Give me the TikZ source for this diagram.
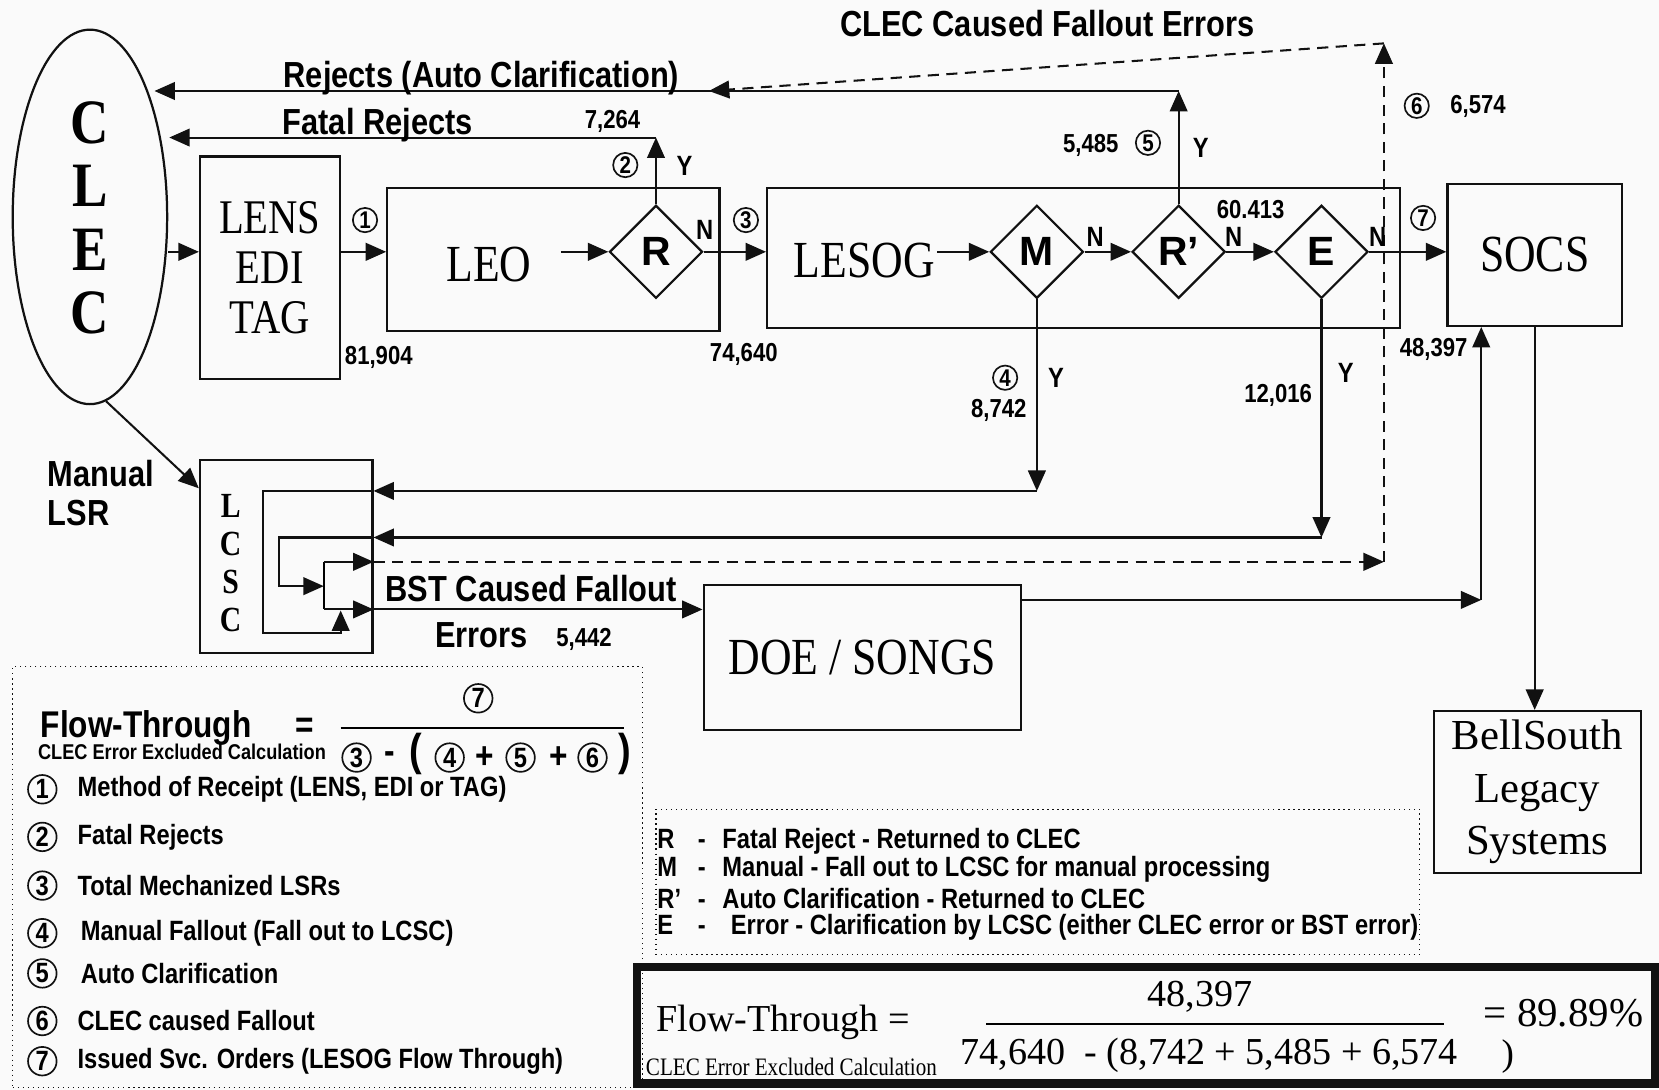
\documentclass[tikz,border=0pt]{standalone}
\usepackage{fontspec}
\setmainfont{Liberation Serif}
\setsansfont{Liberation Sans}
\newfontfamily\nsans[FakeStretch=0.85]{Liberation Sans}
\newfontfamily\nserif[FakeStretch=0.84]{Liberation Serif}
\usetikzlibrary{arrows.meta, shapes.geometric}
\definecolor{cbk}{HTML}{111111}
\definecolor{cpaper}{HTML}{FAFAFA}

\begin{document}
\begin{tikzpicture}[x=0.02cm, y=-0.02cm]
    \fill[cpaper] (0,0) rectangle (1568,1030);
    \useasboundingbox (0,0) rectangle (1568,1030);
    \begin{scope}[
        procbox/.style={rectangle, draw=cbk, line width=1.2pt, inner sep=0pt},
        decbox/.style={diamond, draw=cbk, line width=1.2pt, minimum size=1.76cm, inner sep=0pt, font=\sffamily\bfseries\fontsize{22}{26}\selectfont},
        boxtext/.style={font=\nserif\fontsize{28}{32}\selectfont, inner sep=1pt},
        flowlabel/.style={font=\nsans\bfseries\fontsize{19.5}{20.5}\selectfont, inner sep=1pt},
        countlabel/.style={font=\nsans\bfseries\fontsize{14}{16}\selectfont, inner sep=1pt},
        branchlabel/.style={font=\nsans\bfseries\fontsize{15}{17}\selectfont, inner sep=1pt},
        stepnum/.style={circle, draw=cbk, line width=0.9pt, inner sep=0pt, minimum size=0.46cm, font=\nsans\bfseries\fontsize{13}{15}\selectfont},
        bignum/.style={stepnum, minimum size=0.54cm, font=\nsans\bfseries\fontsize{15}{17}\selectfont},
        legendtext/.style={font=\nsans\bfseries\fontsize{15}{17}\selectfont, anchor=west, inner sep=0pt},
        fboxtext/.style={font=\fontsize{20.5}{24}\selectfont, inner sep=0pt},
        arrow/.style={-{Triangle[length=11pt, width=9.5pt]}, line width=1.1pt, draw=cbk},
        dasharrow/.style={arrow, dash pattern=on 6pt off 4pt},
        dotbox/.style={rectangle, draw=cbk, line width=0.7pt, dotted, inner sep=0pt}
    ]
        % ================= CLEC =================
        \node[ellipse, draw=cbk, line width=1.2pt, minimum width=2.92cm, minimum height=7.08cm, inner sep=0pt] (clec) at (85,205) {};
        \node[font=\nserif\bfseries\fontsize{34}{34}\selectfont, align=center, inner sep=0pt] (clectext) at (85,206) {C\\L\\E\\C};

        % ================= LEO row =================
        \node[procbox, minimum width=2.64cm, minimum height=4.2cm, boxtext, font=\nserif\fontsize{26}{27}\selectfont, align=center] (lens) at (255,253) {LENS\\EDI\\TAG};
        \node[procbox, minimum width=6.28cm, minimum height=2.7cm] (leo) at (523,245.5) {};
        \node[boxtext] (leotext) at (462,250) {LEO};
        \coordinate (leoout) at (530,238);
        \node[decbox] (rdec) at (620,238) {R};

        % ================= LESOG row =================
        \node[procbox, minimum width=11.96cm, minimum height=2.64cm] (lesog) at (1024,244) {};
        \node[boxtext] (lesogtext) at (817,246) {LESOG};
        \node[decbox] (mdec) at (980,238) {M};
        \node[decbox] (rpdec) at (1114,238) {R’};
        \node[decbox] (edec) at (1249,238) {E};
        \node[procbox, minimum width=3.3cm, minimum height=2.68cm, boxtext] (socs) at (1450.5,241) {SOCS};

        % ================= LCSC, DOE, legacy =================
        \node[procbox, minimum width=3.26cm, minimum height=3.66cm] (lcsc) at (270.5,526) {};
        \node[font=\nserif\bfseries\fontsize{19}{20.5}\selectfont, align=center, inner sep=0pt] (lcsctext) at (218,532) {L\\C\\S\\C};
        \node[procbox, minimum width=6cm, minimum height=2.74cm, boxtext] (doe) at (815,621.5) {DOE / SONGS};
        \node[procbox, minimum width=3.92cm, minimum height=3.06cm, font=\fontsize{23}{28.4}\selectfont, align=center] (bell) at (1453,748.5) {BellSouth\\Legacy\\Systems};

        % main flow
        \draw[arrow] (clec.east |- rdec) -- (lens.west |- rdec);
        \draw[arrow] (lens.east |- rdec) -- (leo.west |- rdec);
        \draw[arrow] (leoout) -- (rdec.west);
        \draw[arrow] (rdec.east) -- (lesog.west |- rdec);
        \draw[arrow] (lesogtext.east |- mdec) -- (mdec.west);
        \draw[arrow] (mdec.east) -- (rpdec.west);
        \draw[arrow] (rpdec.east) -- (edec.west);
        \draw[arrow] (edec.east) -- (socs.west |- edec);

        % rejects back to CLEC
        \coordinate (fatalturn) at (620,130);
        \coordinate (fatalend) at (160,130);
        \draw[arrow] (rdec.north) -- (fatalturn);
        \draw[arrow] (fatalturn) -- (fatalend);
        \coordinate (autoturn) at (1114,86);
        \coordinate (autoend) at (146,86);
        \draw[arrow] (rpdec.north) -- (autoturn);
        \draw[arrow] (autoturn) -- (autoend);

        % fallout to LCSC
        \coordinate (mturn) at (980,464);
        \draw[arrow] (mdec.south) -- (mturn);
        \draw[arrow] (mturn) -- (lcsc.east |- mturn);
        \coordinate (eturn) at (1249,508);
        \draw[arrow] (edec.south) -- (eturn);
        \draw[arrow] (eturn) -- (lcsc.east |- eturn);
        \draw[arrow] (clec.-85) -- (lcsc.142);

        % inside LCSC
        \coordinate (mloop) at (249,598);
        \coordinate (swin) at (322,577);
        \coordinate (eloop) at (264,554);
        \coordinate (swmid) at (306,554);
        \coordinate (swtop) at (306,531);
        \coordinate (swbot) at (306,576);
        \draw[arrow] (lcsc.east |- mturn) -| (mloop) -| (swin);
        \draw[arrow] (lcsc.east |- eturn) -| (eloop) -- (swmid);
        \draw[line width=1.1pt] (swtop) -- (swbot);
        \draw[arrow] (swtop) -- (lcsc.east |- swtop);
        \draw[arrow] (swbot) -- (lcsc.east |- swbot);

        % CLEC caused fallout (dashed)
        \coordinate (clecfall) at (1308,531);
        \coordinate (clectop) at (1308,41);
        \coordinate (autojoin) at (670,86);
        \draw[dasharrow] (lcsc.east |- swtop) -- (clecfall);
        \draw[dasharrow] (clecfall) -- (clectop);
        \draw[dasharrow] (clectop) -- (autojoin);

        % BST caused fallout
        \coordinate (socsturn) at (1400,567);
        \draw[arrow] (lcsc.east |- swbot) -- (doe.west |- swbot);
        \draw[arrow] (doe.east |- socsturn) -- (socsturn);
        \draw[arrow] (socsturn) -- (socsturn |- socs.south);
        \draw[arrow] (socs.south) -- (socs.south |- bell.north);

        % labels
        \node[flowlabel] (lblclecfall) at (990,22) {CLEC Caused Fallout Errors};
        \node[flowlabel] (lblauto) at (455,74) {Rejects (Auto Clarification)};
        \node[flowlabel] (lblfatal) at (357,118) {Fatal Rejects};
        \node[flowlabel, align=left, anchor=west] (lblmanual) at (43,466) {Manual\\LSR};
        \node[flowlabel] (lblbst) at (502,556) {BST Caused Fallout};
        \node[flowlabel] (lblerrors) at (455,600) {Errors};

        \node[countlabel] (n5442) at (552,604) {5,442};
        \node[countlabel] (n7264) at (579,115) {7,264};
        \node[countlabel] (n81904) at (358,338) {81,904};
        \node[countlabel] (n74640) at (703,335) {74,640};
        \node[countlabel] (n5485) at (1031,137) {5,485};
        \node[countlabel] (n6574) at (1397,101) {6,574};
        \node[countlabel] (n60413) at (1182,198) {60.413};
        \node[countlabel] (n8742) at (944,388) {8,742};
        \node[countlabel] (n12016) at (1208,374) {12,016};
        \node[countlabel] (n48397) at (1355,330) {48,397};

        \node[branchlabel] (yr) at (647,157) {Y};
        \node[branchlabel] (nr) at (666,217) {N};
        \node[branchlabel] (yrp) at (1135,140) {Y};
        \node[branchlabel] (nm) at (1035,224) {N};
        \node[branchlabel] (nrp) at (1166,224) {N};
        \node[branchlabel] (ne) at (1302,224) {N};
        \node[branchlabel] (ym) at (998,357) {Y};
        \node[branchlabel] (ye) at (1272,352) {Y};

        \node[stepnum] (s1) at (345,208) {1};
        \node[stepnum] (s2) at (591,156) {2};
        \node[stepnum] (s3) at (705,208) {3};
        \node[stepnum] (s4) at (950,357) {4};
        \node[stepnum] (s5) at (1085,135) {5};
        \node[stepnum] (s6) at (1339,100) {6};
        \node[stepnum] (s7) at (1345,206) {7};

        % ================= legend =================
        \node[dotbox, minimum width=11.9cm, minimum height=7.96cm] (legend) at (309.5,829) {};
        \node[font=\nsans\bfseries\fontsize{20}{22}\selectfont, inner sep=0pt] (ftname) at (138,688) {Flow-Through};
        \node[font=\nsans\bfseries\fontsize{20}{22}\selectfont, inner sep=0pt] (fteq) at (288,688) {=};
        \node[font=\nsans\bfseries\fontsize{11.5}{13}\selectfont, inner sep=0pt] (ftsub) at (172,711) {CLEC Error Excluded Calculation};
        \node[bignum] (fn7) at (452,660) {7};
        \coordinate (ftbarl) at (322,688);
        \coordinate (ftbarr) at (590,688);
        \draw[line width=1.4pt] (ftbarl) -- (ftbarr);
        \node[bignum] (fd3) at (337,716) {3};
        \node[font=\nsans\bfseries\fontsize{20}{22}\selectfont, inner sep=0pt] (fdminus) at (368,716) {-};
        \node[font=\nsans\bfseries\fontsize{24}{26}\selectfont, inner sep=0pt] (fdlp) at (393,713) {(};
        \node[bignum] (fd4) at (425,716) {4};
        \node[font=\nsans\bfseries\fontsize{20}{22}\selectfont, inner sep=0pt] (fdplusa) at (458,716) {+};
        \node[bignum] (fd5) at (492,716) {5};
        \node[font=\nsans\bfseries\fontsize{20}{22}\selectfont, inner sep=0pt] (fdplusb) at (528,716) {+};
        \node[bignum] (fd6) at (560,716) {6};
        \node[font=\nsans\bfseries\fontsize{24}{26}\selectfont, inner sep=0pt] (fdrp) at (591,713) {)};

        \node[bignum] (l1) at (40,746) {1};
        \node[legendtext] (l1text) at (73,746) {Method of Receipt (LENS, EDI or TAG)};
        \node[bignum] (l2) at (40,791) {2};
        \node[legendtext] (l2text) at (73,791) {Fatal Rejects};
        \node[bignum] (l3) at (40,837) {3};
        \node[legendtext] (l3text) at (73,837) {Total Mechanized LSRs};
        \node[bignum] (l4) at (40,882) {4};
        \node[legendtext] (l4text) at (76,882) {Manual Fallout (Fall out to LCSC)};
        \node[bignum] (l5) at (40,920) {5};
        \node[legendtext] (l5text) at (76,920) {Auto Clarification};
        \node[bignum] (l6) at (40,965) {6};
        \node[legendtext] (l6text) at (73,965) {CLEC caused Fallout};
        \node[bignum] (l7) at (40,1003) {7};
        \node[legendtext] (l7text) at (73,1003) {Issued Svc. Orders (LESOG Flow Through)};

        % ================= decision key =================
        \node[dotbox, minimum width=14.44cm, minimum height=2.74cm] (key) at (981,833.5) {};
        \node[legendtext] (keyr) at (621,795) {\makebox[1.45em][l]{R}-\hspace{0.6em}Fatal Reject - Returned to CLEC};
        \node[legendtext] (keym) at (621,822) {\makebox[1.45em][l]{M}-\hspace{0.6em}Manual - Fall out to LCSC for manual processing};
        \node[legendtext] (keyrp) at (621,849) {\makebox[1.45em][l]{R’}-\hspace{0.6em}Auto Clarification - Returned to CLEC};
        \node[legendtext] (keye) at (621,876) {\makebox[1.45em][l]{E}-\hspace{0.9em}Error - Clarification by LCSC (either CLEC error or BST error)};

        % ================= result =================
        \node[rectangle, draw=cbk, line width=4.5pt, minimum width=19.24cm, minimum height=2.2cm, inner sep=0pt] (fbox) at (1083,969) {};
        \node[fboxtext] (fbname) at (740,966) {Flow-Through =};
        \node[fboxtext, font=\nserif\fontsize{13.5}{15}\selectfont] (fbsub) at (748,1008) {CLEC Error Excluded Calculation};
        \node[fboxtext] (fbnum) at (1134,942) {48,397};
        \coordinate (fbbarl) at (932,968);
        \coordinate (fbbarr) at (1365,968);
        \draw[line width=1pt] (fbbarl) -- (fbbarr);
        \node[fboxtext] (fbden) at (1143,997) {74,640\ \ - (8,742 + 5,485 + 6,574};
        \node[fboxtext, font=\fontsize{20}{22}\selectfont] (fbrp) at (1425,999) {)};
        \node[fboxtext, font=\fontsize{22}{24}\selectfont, anchor=west] (fbres) at (1402,958) {= 89.89\%};
    \end{scope}
\end{tikzpicture}
\end{document}
